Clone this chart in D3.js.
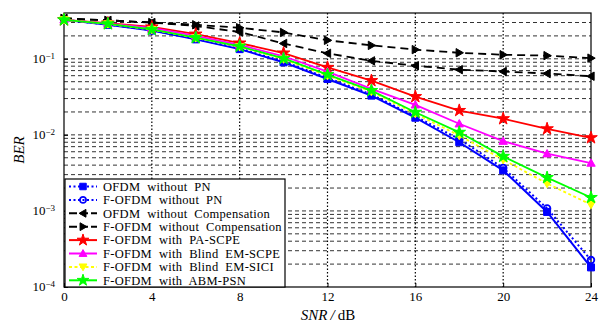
<!DOCTYPE html>
<html>
<head>
<meta charset="utf-8">
<script src="https://cdn.jsdelivr.net/npm/d3@7"></script>
<style>
  body { margin: 0; background: #fff; }
  svg text { font-family: "Liberation Serif", "DejaVu Serif", serif; fill: #000; }
</style>
</head>
<body>
<div id="chart"></div>
<script>
// SNR points (dB)
var snr = [0, 2, 4, 6, 8, 10, 12, 14, 16, 18, 20, 22, 24];
var xTicks = [0, 4, 8, 12, 16, 20, 24];
var yTicks = [1e-4, 1e-3, 1e-2, 1e-1];

// BER values
var ofdmNoPN   = [0.325, 0.28, 0.235, 0.18, 0.134, 0.0897, 0.0543, 0.0328, 0.0168, 0.0080, 0.00341, 0.00097, 0.000181];
var fofdmNoPN  = [0.325, 0.282, 0.238, 0.183, 0.137, 0.092, 0.056, 0.034, 0.0175, 0.0088, 0.00368, 0.00108, 0.000226];
var ofdmNoComp = [0.34, 0.32, 0.30, 0.27, 0.225, 0.159, 0.118, 0.094, 0.081, 0.072, 0.068, 0.064, 0.059];
var fofdmNoComp= [0.34, 0.32, 0.30, 0.28, 0.256, 0.222, 0.175, 0.15, 0.132, 0.12, 0.113, 0.11, 0.102];
var paScpe     = [0.325, 0.295, 0.262, 0.211, 0.161, 0.119, 0.077, 0.0516, 0.0318, 0.0209, 0.0163, 0.012, 0.00916];
var blindScpe  = [0.325, 0.29, 0.255, 0.2, 0.152, 0.108, 0.0678, 0.0402, 0.0248, 0.014, 0.00826, 0.00565, 0.00426];
var blindSici  = [0.325, 0.287, 0.242, 0.188, 0.144, 0.099, 0.060, 0.037, 0.019, 0.0098, 0.00472, 0.00229, 0.00121];
var abmPsn     = [0.325, 0.288, 0.243, 0.19, 0.146, 0.101, 0.0619, 0.0382, 0.0198, 0.0108, 0.00521, 0.00274, 0.0015];

var series = [
  {name: "OFDM  without  PN", vals: ofdmNoPN, color: "#0000ff", dash: null, legDash: "2,2.5", marker: "square", width: 2},
  {name: "F-OFDM  without  PN", vals: fofdmNoPN, color: "#0000ff", dash: "2,2.5", legDash: "2,2.5", marker: "circle", width: 2},
  {name: "OFDM  without  Compensation", vals: ofdmNoComp, color: "#000000", dash: "8,5", legDash: "8,3", marker: "left", width: 1.8},
  {name: "F-OFDM  without  Compensation", vals: fofdmNoComp, color: "#000000", dash: "8,5", legDash: "8,3", marker: "right", width: 1.8},
  {name: "F-OFDM  with  PA-SCPE", vals: paScpe, color: "#ff0000", dash: null, legDash: null, marker: "star", width: 1.8},
  {name: "F-OFDM  with  Blind  EM-SCPE", vals: blindScpe, color: "#ff00ff", dash: null, legDash: null, marker: "up", width: 1.8},
  {name: "F-OFDM  with  Blind  EM-SICI", vals: blindSici, color: "#ffff00", dash: "3,2.5", legDash: "3,2.5", marker: "down", width: 1.8},
  {name: "F-OFDM  with  ABM-PSN", vals: abmPsn, color: "#00ff00", dash: null, legDash: null, marker: "star", width: 1.8}
];

var W = 599, H = 323;
var m = {left: 64, right: 8, top: 13, bottom: 36};

var svg = d3.select("#chart").append("svg")
  .attr("width", W).attr("height", H);

var x = d3.scaleLinear().domain([0, 24]).range([m.left, W - m.right]);
var y = d3.scaleLog().domain([1e-4, 0.4]).range([H - m.bottom, m.top]);

// horizontal dashed grid (all log ticks)
var hGrid = [];
[1e-4, 1e-3, 1e-2, 1e-1].forEach(function(d) {
  for (var k = 1; k <= 9; k++) {
    var v = d * k;
    if (v > 1e-4 && v < 0.4) hGrid.push(v);
  }
});
svg.append("g").selectAll("line").data(hGrid).enter().append("line")
  .attr("x1", x(0)).attr("x2", x(24))
  .attr("y1", function(d) { return y(d); }).attr("y2", function(d) { return y(d); })
  .attr("stroke", "#333").attr("stroke-width", 1).attr("stroke-dasharray", "4,3");

// vertical dotted grid
svg.append("g").selectAll("line").data(xTicks.slice(1, -1)).enter().append("line")
  .attr("y1", y(0.4)).attr("y2", y(1e-4))
  .attr("x1", function(d) { return x(d); }).attr("x2", function(d) { return x(d); })
  .attr("stroke", "#000").attr("stroke-width", 1.2).attr("stroke-dasharray", "1.5,2");

// axes
var xAxis = svg.append("g").attr("transform", "translate(0," + (H - m.bottom) + ")")
  .call(d3.axisBottom(x).tickValues(xTicks).tickSize(-4).tickPadding(5));
var yAxis = svg.append("g").attr("transform", "translate(" + m.left + ",0)")
  .call(d3.axisLeft(y).tickValues(yTicks).tickSize(-4).tickPadding(8).tickFormat(""));
[xAxis, yAxis].forEach(function(g) {
  g.select(".domain").remove();
  g.selectAll("line").attr("stroke", "#000");
});
xAxis.selectAll("text").attr("font-size", 13).attr("font-family", "Liberation Serif");

yAxis.selectAll(".tick").each(function(d) {
  var t = d3.select(this).append("text")
    .attr("x", -9).attr("dy", "0.3em").attr("text-anchor", "end")
    .attr("font-size", 13).attr("font-family", "Liberation Serif");
  t.append("tspan").text("10");
  t.append("tspan").attr("dy", "-0.45em").attr("font-size", 9).text("\u2212" + Math.round(-Math.log10(d)));
});

// frame
svg.append("rect")
  .attr("x", m.left).attr("y", m.top)
  .attr("width", W - m.left - m.right).attr("height", H - m.top - m.bottom)
  .attr("fill", "none").attr("stroke", "#000").attr("stroke-width", 1.2);

// marker shapes
function markerPath(type, s) {
  switch (type) {
    case "square": return d3.symbol().type(d3.symbolSquare).size(s * s)();
    case "circle": return d3.symbol().type(d3.symbolCircle).size(s * s * 0.7)();
    case "star": return d3.symbol().type(d3.symbolStar).size(s * s * 1.0)();
    case "up": return "M0," + (-s * 0.6) + "L" + (s * 0.6) + "," + (s * 0.45) + "L" + (-s * 0.6) + "," + (s * 0.45) + "Z";
    case "down": return "M0," + (s * 0.6) + "L" + (s * 0.6) + "," + (-s * 0.45) + "L" + (-s * 0.6) + "," + (-s * 0.45) + "Z";
    case "left": return "M" + (-s * 0.6) + ",0L" + (s * 0.45) + "," + (-s * 0.6) + "L" + (s * 0.45) + "," + (s * 0.6) + "Z";
    case "right": return "M" + (s * 0.6) + ",0L" + (-s * 0.45) + "," + (-s * 0.6) + "L" + (-s * 0.45) + "," + (s * 0.6) + "Z";
  }
}

var line = d3.line()
  .x(function(d, i) { return x(snr[i]); })
  .y(function(d) { return y(d); });

var plot = svg.append("g");
series.forEach(function(s) {
  var g = plot.append("g");
  g.append("path").datum(s.vals)
    .attr("d", line).attr("fill", "none")
    .attr("stroke", s.color).attr("stroke-width", s.width)
    .attr("stroke-dasharray", s.dash);
  g.selectAll("path.mk").data(s.vals).enter().append("path")
    .attr("class", "mk")
    .attr("transform", function(d, i) { return "translate(" + x(snr[i]) + "," + y(d) + ")"; })
    .attr("d", markerPath(s.marker, 7))
    .attr("fill", s.marker === "circle" ? "none" : s.color)
    .attr("stroke", s.color).attr("stroke-width", s.marker === "circle" ? 1.8 : 1);
});

// legend
var lgX = 65, lgY = 179, lgW = 220, lgH = 108, rowH = 13.4;
var lg = svg.append("g");
lg.append("rect").attr("x", lgX).attr("y", lgY).attr("width", lgW).attr("height", lgH)
  .attr("fill", "#fff").attr("stroke", "#000").attr("stroke-width", 1.2);
series.forEach(function(s, i) {
  var cy = lgY + 7.5 + i * rowH;
  lg.append("line").attr("x1", lgX + 4).attr("x2", lgX + 32).attr("y1", cy).attr("y2", cy)
    .attr("stroke", s.color).attr("stroke-width", 2).attr("stroke-dasharray", s.legDash);
  lg.append("path").attr("transform", "translate(" + (lgX + 18) + "," + cy + ")")
    .attr("d", markerPath(s.marker, 6.5))
    .attr("fill", s.marker === "circle" ? "none" : s.color)
    .attr("stroke", s.color).attr("stroke-width", s.marker === "circle" ? 1.8 : 1);
  lg.append("text").attr("x", lgX + 38).attr("y", cy).attr("dy", "0.35em")
    .attr("font-size", 12.5).attr("letter-spacing", 0.3)
    .attr("xml:space", "preserve").style("white-space", "pre")
    .text(s.name);
});

// axis titles
svg.append("text")
  .attr("transform", "translate(24," + ((m.top + H - m.bottom) / 2) + ") rotate(-90)")
  .attr("text-anchor", "middle").attr("font-size", 15).attr("font-style", "italic")
  .text("BER");
var xl = svg.append("text").attr("x", 328).attr("y", 320)
  .attr("text-anchor", "middle").attr("font-size", 15);
xl.append("tspan").attr("font-style", "italic").text("SNR\u2009/\u2009");
xl.append("tspan").text("dB");
</script>
</body>
</html>
